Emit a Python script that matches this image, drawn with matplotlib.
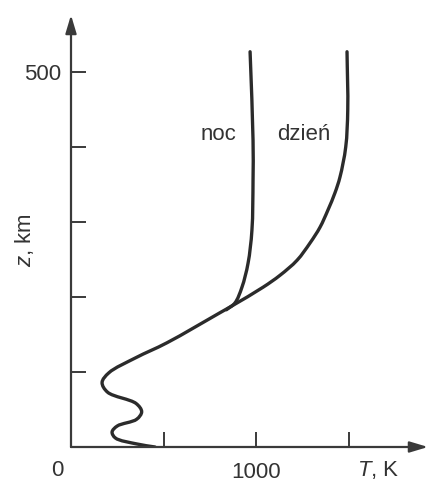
import matplotlib
matplotlib.use("Agg")
import matplotlib.pyplot as plt
import numpy as np
from matplotlib.path import Path
from matplotlib.patches import PathPatch

plt.rcParams['font.family'] = ['Liberation Sans', 'DejaVu Sans']
plt.rcParams['mathtext.fontset'] = 'custom'
plt.rcParams['mathtext.it'] = 'Liberation Sans:italic'
plt.rcParams['mathtext.rm'] = 'Liberation Sans'

# ---- data ----
# day profile: temperature T [K] vs altitude z [km]
day_T = [454, 357, 240, 222, 250, 355, 382, 352, 198, 168, 205, 350, 519, 805, 876,
         1038, 1130, 1222, 1292, 1346, 1389, 1427, 1454, 1485, 1496, 1492]
day_z = [0, 4, 12, 20, 28, 37, 47, 58, 73, 86, 99, 119, 139, 179, 189,
         213, 229, 249, 272, 293, 316, 339, 360, 400, 450, 527]
# night branch (splits from day curve near ~185 km)
night_T = [840, 886, 924, 957, 978, 984, 984, 968]
night_z = [183, 192, 213, 245, 289, 356, 409, 527]

x_ticks = [500, 1000, 1500]
x_ticklabels = ['', '1000', '']
y_ticks = [100, 200, 300, 400, 500]
y_ticklabels = ['', '', '', '', '500']
x_label = r'$T$, K'
y_label = r'$z$, km'
label_night = 'noc'
label_day = 'dzień'

W, H = 429, 482
SX, SY = 0.185, 0.75   # pixels per unit (used only for smooth-curve parametrisation)
fig = plt.figure(figsize=(W / 100, H / 100), dpi=100)
ax = fig.add_axes([71 / W, 35 / H, (428 - 71) / W, (447 - 15) / H])
xmax = (428 - 71) / SX
ymax = (447 - 15) / SY
ax.set_xlim(0, xmax)
ax.set_ylim(0, ymax)
for s in ax.spines.values():
    s.set_visible(False)

axis_col = '#3a3a3a'
curve_col = '#2b2b2b'


def smooth_path(xs, ys):
    # centripetal Catmull-Rom through the data points, drawn as Bezier path
    P = np.column_stack([np.asarray(xs) * SX, np.asarray(ys) * SY]).astype(float)
    n = len(P)
    verts = [P[0]]
    codes = [Path.MOVETO]
    for i in range(n - 1):
        p0 = P[i - 1] if i > 0 else 2 * P[i] - P[i + 1]
        p1 = P[i]
        p2 = P[i + 1]
        p3 = P[i + 2] if i + 2 < n else 2 * P[i + 1] - P[i]
        d0 = max(np.linalg.norm(p1 - p0) ** 0.5, 1e-6)
        d1 = max(np.linalg.norm(p2 - p1) ** 0.5, 1e-6)
        d2 = max(np.linalg.norm(p3 - p2) ** 0.5, 1e-6)
        m1 = ((p1 - p0) / d0 - (p2 - p0) / (d0 + d1) + (p2 - p1) / d1) * d1
        m2 = ((p2 - p1) / d1 - (p3 - p1) / (d1 + d2) + (p3 - p2) / d2) * d1
        c1 = p1 + m1 / 3.0
        c2 = p2 - m2 / 3.0
        verts += [c1, c2, p2]
        codes += [Path.CURVE4] * 3
    V = np.array(verts)
    V[:, 0] /= SX
    V[:, 1] /= SY
    return Path(V, codes)


for xs, ys in [(day_T, day_z), (night_T, night_z)]:
    ax.add_patch(PathPatch(smooth_path(xs, ys), fill=False, ec=curve_col,
                           lw=2.4, capstyle='round', joinstyle='round'))

# axes with arrows
arrow_kw = dict(arrowstyle='-|>,head_length=1.1,head_width=0.33', color=axis_col,
                lw=1.6, shrinkA=0, shrinkB=0)
ax.annotate('', xy=(xmax, 0), xytext=(0, 0), arrowprops=arrow_kw,
            annotation_clip=False)
ax.annotate('', xy=(0, ymax), xytext=(0, 0), arrowprops=arrow_kw,
            annotation_clip=False)

ax.set_xticks(x_ticks)
ax.set_xticklabels(x_ticklabels)
ax.set_yticks(y_ticks)
ax.set_yticklabels(y_ticklabels)
ax.tick_params(axis='both', direction='in', length=11, width=1.4,
               color=axis_col, labelsize=16, labelcolor='#333333')
ax.tick_params(axis='x', pad=11)
ax.tick_params(axis='y', pad=7)

ax.text(-75, -31, '0', fontsize=16, color='#333333', ha='center', va='center')
ax.text(1659, -31, x_label, fontsize=16, color='#333333', ha='center', va='center')
fig.text(25 / W, 1 - 240 / H, y_label, fontsize=16, color='#333333',
         rotation=90, ha='center', va='center')

ax.text(800, 416, label_night, fontsize=16, color='#333333', ha='center', va='center')
ax.text(1259, 416, label_day, fontsize=16, color='#333333', ha='center', va='center')

fig.savefig('out.png', dpi=100, facecolor='white')
